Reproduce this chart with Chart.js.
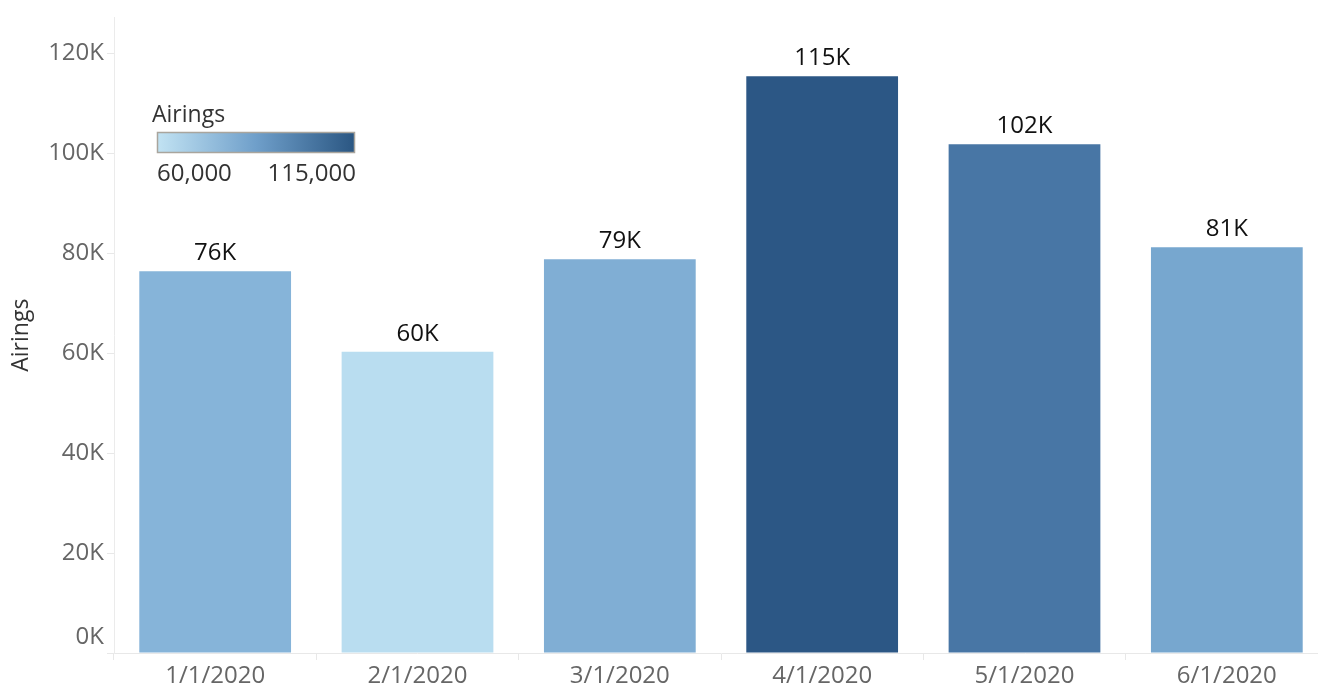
<!DOCTYPE html>
<html lang="en">
<head>
    <meta charset="UTF-8">
    <title>Airings by month</title>
    <style>
        html, body { margin: 0; padding: 0; background: #fff; overflow: hidden; }
        #wrap { width: 1330px; height: 688px; position: relative; }
    </style>
    <script src="https://cdn.jsdelivr.net/npm/chart.js@4.4.2/dist/chart.umd.min.js"></script>
</head>
<body>
    <div id="wrap"><canvas id="airingsChart"></canvas></div>

    <script>
        // data
        const months = ['1/1/2020', '2/1/2020', '3/1/2020', '4/1/2020', '5/1/2020', '6/1/2020'];
        const airings = [76400, 60300, 78800, 115400, 101800, 81200];
        const yTicks = [0, 20000, 40000, 60000, 80000, 100000, 120000];
        const legendRange = [60000, 115000];

        // bar colours (sequential blue scale)
        const barColors = ['#86b4d9', '#b9ddf0', '#80aed4', '#2c5785', '#4876a5', '#77a7cf'];

        const FONT = '"Open Sans", sans-serif';

        // value labels above each bar
        const barLabels = {
            id: 'barLabels',
            afterDatasetsDraw(chart) {
                const ctx = chart.ctx;
                const meta = chart.getDatasetMeta(0);
                ctx.save();
                ctx.font = '24px ' + FONT;
                ctx.fillStyle = '#111';
                ctx.textAlign = 'center';
                ctx.textBaseline = 'alphabetic';
                meta.data.forEach((bar, i) => {
                    const txt = Math.round(airings[i] / 1000) + 'K';
                    ctx.fillText(txt, bar.x, bar.y - 11);
                });
                ctx.restore();
            }
        };

        // colour legend in the top left, plus the 0K label which sits raised above the baseline
        const colorLegend = {
            id: 'colorLegend',
            afterDraw(chart) {
                const ctx = chart.ctx;
                ctx.save();
                ctx.font = '23px ' + FONT;
                ctx.fillStyle = '#333';
                ctx.textAlign = 'left';
                ctx.textBaseline = 'middle';
                ctx.fillText('Airings', 152, 115);

                const x0 = 157, y0 = 132, w = 198, h = 21;
                const grad = ctx.createLinearGradient(x0, 0, x0 + w, 0);
                grad.addColorStop(0, '#c2e3f3');
                grad.addColorStop(0.5, '#6f9fca');
                grad.addColorStop(1, '#2a5682');
                ctx.fillStyle = grad;
                ctx.fillRect(x0, y0, w, h);
                ctx.strokeStyle = '#a9a59d';
                ctx.lineWidth = 1.5;
                ctx.strokeRect(x0 + 0.5, y0 + 0.5, w - 1, h - 1);

                ctx.fillStyle = '#333';
                ctx.font = '24px ' + FONT;
                ctx.textAlign = 'left';
                ctx.fillText(legendRange[0].toLocaleString('en-US'), 157, 174);
                ctx.textAlign = 'right';
                ctx.fillText(legendRange[1].toLocaleString('en-US'), 356, 174);

                const y = chart.scales.y;
                ctx.fillStyle = '#666';
                ctx.textAlign = 'right';
                ctx.fillText('0K', y.right - 10, y.getPixelForValue(0) - 16);
                ctx.restore();
            }
        };

        new Chart(document.getElementById('airingsChart'), {
            type: 'bar',
            data: {
                labels: months,
                datasets: [{
                    label: 'Airings',
                    data: airings,
                    backgroundColor: barColors,
                    categoryPercentage: 1,
                    barPercentage: 0.75
                }]
            },
            options: {
                responsive: true,
                maintainAspectRatio: false,
                animation: false,
                layout: { padding: { top: 10, right: 2, left: 0, bottom: 0 } },
                plugins: {
                    legend: { display: false },
                    tooltip: { enabled: false }
                },
                scales: {
                    x: {
                        offset: true,
                        grid: {
                            display: true,
                            offset: true,
                            drawOnChartArea: false,
                            drawTicks: true,
                            tickLength: 7,
                            color: '#e8e8e8'
                        },
                        border: { display: true, color: '#e8e8e8' },
                        ticks: {
                            color: '#666',
                            font: { family: FONT, size: 24 },
                            padding: 2,
                            maxRotation: 0
                        },
                        afterFit(scale) { scale.height = 35; }
                    },
                    y: {
                        min: 0,
                        max: 127200,
                        afterBuildTicks(scale) {
                            scale.ticks = yTicks.map(v => ({ value: v }));
                        },
                        grid: {
                            display: true,
                            drawOnChartArea: false,
                            drawTicks: true,
                            tickLength: 7,
                            color: '#e8e8e8'
                        },
                        border: { display: true, color: '#ebebeb' },
                        ticks: {
                            color: '#666',
                            font: { family: FONT, size: 24 },
                            padding: 3,
                            callback: v => v === 0 ? '' : (v / 1000) + 'K'
                        },
                        title: {
                            display: true,
                            text: 'Airings',
                            color: '#333',
                            font: { family: FONT, size: 23 },
                            padding: { top: 8, bottom: 0 }
                        },
                        afterFit(scale) { scale.width = 114; }
                    }
                }
            },
            plugins: [barLabels, colorLegend]
        });
    </script>
</body>
</html>
